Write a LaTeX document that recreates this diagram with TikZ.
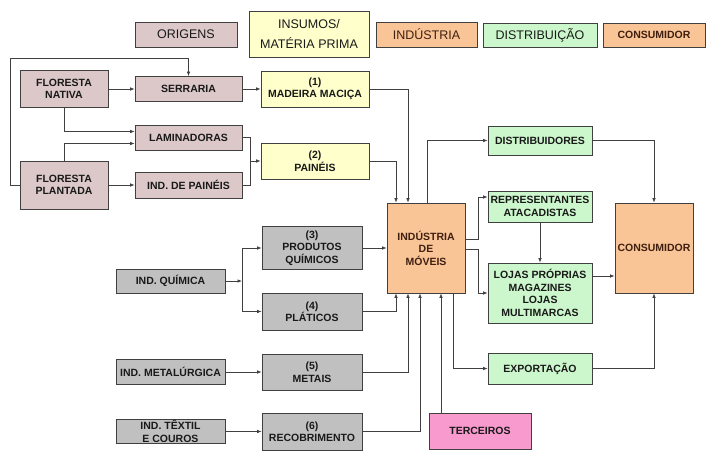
\documentclass[tikz,border=0pt]{standalone}
\usepackage{fontspec}
\setmainfont{Liberation Sans}
\usetikzlibrary{arrows.meta}
\definecolor{origem}{HTML}{DCC8C8}
\definecolor{insumo}{HTML}{FFFFCC}
\definecolor{laranja}{HTML}{F9C496}
\definecolor{verde}{HTML}{CCF7CC}
\definecolor{cinza}{HTML}{C0C0C0}
\definecolor{rosa}{HTML}{F99ACF}
\definecolor{traco}{HTML}{404040}
\definecolor{marrom}{HTML}{3F2010}

\begin{document}
\begin{tikzpicture}[x=1pt,y=-1pt,
  caixa/.style={draw=traco,line width=0.8pt,inner sep=0pt,align=center,text=black!90,
    font=\fontsize{10.5}{12.5}\selectfont\bfseries},
  orig/.style={caixa,fill=origem},
  ins/.style={caixa,fill=insumo},
  ind/.style={caixa,fill=laranja,text=marrom},
  dist/.style={caixa,fill=verde},
  forn/.style={caixa,fill=cinza},
  legenda/.style={font=\fontsize{12.5}{20}\selectfont\mdseries},
  ligacao/.style={draw=traco,line width=0.7pt},
  conn/.style={ligacao,-{Latex[length=4.5pt,width=3.6pt]}}]
\useasboundingbox (0,0) rectangle (711,459);

% legenda
\node[orig,legenda,minimum width=102pt,minimum height=25pt] (lorig) at (186,34.5) {ORIGENS};
\node[ins,legenda,minimum width=120pt,minimum height=46pt] (lins) at (309,34) {INSUMOS/\\MATÉRIA PRIMA};
\node[ind,legenda,minimum width=101pt,minimum height=25pt] (lind) at (426.5,34.5) {INDÚSTRIA};
\node[dist,legenda,minimum width=114pt,minimum height=24pt] (ldist) at (540,35) {DISTRIBUIÇÃO};
\node[ind,minimum width=102pt,minimum height=24pt] (lcons) at (654,35) {CONSUMIDOR};

% origens e insumos
\node[orig,minimum width=88pt,minimum height=37pt] (nativa) at (64,89) {FLORESTA\\NATIVA};
\node[orig,minimum width=88pt,minimum height=48pt] (plantada) at (64,185) {FLORESTA\\PLANTADA};
\node[orig,minimum width=107pt,minimum height=25pt] (serraria) at (188.5,89) {SERRARIA};
\node[orig,minimum width=107pt,minimum height=25pt] (lamin) at (188.5,137.5) {LAMINADORAS};
\node[orig,minimum width=107pt,minimum height=26pt] (indpain) at (188.5,185) {IND. DE PAINÉIS};
\node[ins,minimum width=108pt,minimum height=36pt] (madeira) at (315,89) {(1)\\MADEIRA MACIÇA};
\node[ins,minimum width=108pt,minimum height=36pt] (paineis) at (315,161) {(2)\\PAINÉIS};

% fornecedores
\node[forn,minimum width=109pt,minimum height=24pt] (indquim) at (170.5,281) {IND. QUÍMICA};
\node[forn,minimum width=109pt,minimum height=25pt] (indmetal) at (170.5,372) {IND. METALÚRGICA};
\node[forn,minimum width=109pt,minimum height=24pt] (indtextil) at (170.5,431.5) {IND. TÊXTIL\\E COUROS};
\node[forn,minimum width=100pt,minimum height=43pt] (quimicos) at (312,248) {(3)\\PRODUTOS\\QUÍMICOS};
\node[forn,minimum width=100pt,minimum height=37pt] (plasticos) at (312,311.5) {(4)\\PLÁTICOS};
\node[forn,minimum width=100pt,minimum height=36pt] (metais) at (312,372) {(5)\\METAIS};
\node[forn,minimum width=100pt,minimum height=37pt] (recobr) at (312,431.5) {(6)\\RECOBRIMENTO};

% industria e distribuicao
\node[ind,minimum width=78pt,minimum height=90pt] (industria) at (426,248) {INDÚSTRIA\\DE\\MÓVEIS};
\node[caixa,fill=rosa,minimum width=102pt,minimum height=36pt] (terceiros) at (480,431) {TERCEIROS};
\node[dist,minimum width=104pt,minimum height=29pt] (distrib) at (540,140.5) {DISTRIBUIDORES};
\node[dist,minimum width=104pt,minimum height=31pt] (repres) at (540,206.5) {REPRESENTANTES\\ATACADISTAS};
\node[dist,minimum width=104pt,minimum height=60pt] (lojas) at (540,293) {LOJAS PRÓPRIAS\\MAGAZINES\\LOJAS\\MULTIMARCAS};
\node[dist,minimum width=104pt,minimum height=31pt] (export) at (540,368.5) {EXPORTAÇÃO};
\node[ind,minimum width=78pt,minimum height=90pt] (consumidor) at (654,248) {CONSUMIDOR};

% pontos de chegada na industria
\coordinate (it1) at ([xshift=-18pt]industria.north);
\coordinate (it2) at ([xshift=-30pt]industria.north);
\coordinate (ib1) at ([xshift=-30pt]industria.south);
\coordinate (ib2) at ([xshift=-18pt]industria.south);
\coordinate (ib3) at ([xshift=-6pt]industria.south);
\coordinate (ib4) at ([xshift=15pt]industria.south);
\coordinate (jp) at (250,161);
\coordinate (jq) at (242,281);
\coordinate (lo) at ([yshift=17pt]lojas.east);

% origens -> insumos
\draw[conn] (plantada.west) -| (10,58) -| (serraria.north);
\draw[conn] (nativa) -- (serraria);
\draw[conn] (nativa.south) |- ([yshift=6pt]lamin.west);
\draw[conn] (plantada.north) |- ([yshift=-6pt]lamin.west);
\draw[conn] (plantada) -- (indpain);
\draw[conn] (serraria) -- (madeira);
\draw[ligacao] (lamin.east) -| (jp);
\draw[ligacao] (indpain.east) -| (jp);
\draw[conn] (jp) -- (paineis.west);
\draw[conn] (madeira.east) -| (it1);
\draw[conn] (paineis.east) -| (it2);

% fornecedores -> industria
\draw[conn] (indquim.east) -- (jq);
\draw[conn] (jq) |- (quimicos.west);
\draw[conn] (jq) |- (plasticos.west);
\draw[conn] (indmetal) -- (metais);
\draw[conn] (indtextil) -- (recobr);
\draw[conn] (quimicos.east) -- (quimicos.east -| industria.west);
\draw[conn] (plasticos.east) -| (ib1);
\draw[conn] (metais.east) -| (ib2);
\draw[conn] (recobr.east) -| (ib3);
\draw[conn] (terceiros.north -| ib4) -- (ib4);

% industria -> distribuicao -> consumidor
\draw[conn] ([xshift=1pt]industria.north) |- (distrib.west);
\draw[conn] ([yshift=9pt]industria.east) -- ++(13,0) |- ([yshift=9.5pt]repres.west);
\draw[conn] ([yshift=-1pt]industria.east) -- ++(13,0) |- (lojas.west);
\draw[conn] ([xshift=27pt]industria.south) |- (export.west);
\draw[conn] (repres) -- (lojas);
\draw[conn] (distrib.east) -| (consumidor.north);
\draw[conn] (lo) -- (lo -| consumidor.west);
\draw[conn] (export.east) -| (consumidor.south);
\end{tikzpicture}
\end{document}
